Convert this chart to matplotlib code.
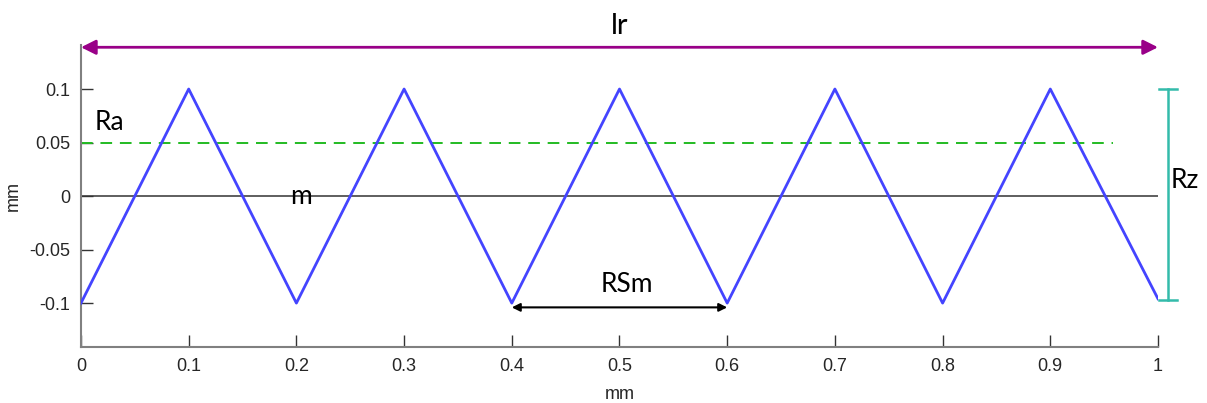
import matplotlib
matplotlib.use('Agg')
import matplotlib.pyplot as plt

# triangle profile, peaks/valleys every 0.1 mm
x_prof = [0, 0.1, 0.2, 0.3, 0.4, 0.5, 0.6, 0.7, 0.8, 0.9, 1.0]
y_prof = [-0.1, 0.1, -0.1, 0.1, -0.1, 0.1, -0.1, 0.1, -0.1, 0.1, -0.096]

ra_level = 0.05
ra_end = 0.958
xticks = [0, 0.1, 0.2, 0.3, 0.4, 0.5, 0.6, 0.7, 0.8, 0.9, 1]
xticklabels = ['0', '0.1', '0.2', '0.3', '0.4', '0.5', '0.6', '0.7', '0.8', '0.9', '1']
yticks = [-0.1, -0.05, 0, 0.05, 0.1]
yticklabels = ['-0.1', '-0.05', '0', '0.05', '0.1']

lab_font = 'Lato'
tick_font = 'Liberation Sans'

fig = plt.figure(figsize=(12.07, 4.03), dpi=100)
ax = fig.add_axes([0.0671, 0.139, 0.8923, 0.749])

ax.plot(x_prof, y_prof, color='#4444ff', lw=2, zorder=3)
ax.plot([0, 1.0], [0, 0], color='#333333', lw=1.1, zorder=2)
ax.plot([0, ra_end], [ra_level, ra_level], color='#22bb22', lw=1.4,
        ls=(0, (6, 4)), zorder=2)

# lr arrow across the top
ax.annotate('', xy=(1.0, 0.139), xytext=(0, 0.139), xycoords='data',
            arrowprops=dict(arrowstyle='<|-|>', color='#990088', lw=2,
                            mutation_scale=22, shrinkA=0, shrinkB=0),
            annotation_clip=False)
ax.text(0.5, 0.159, 'lr', ha='center', va='center', fontsize=21,
        family=lab_font, clip_on=False)

# RSm arrow between two valleys
ax.annotate('', xy=(0.6, -0.104), xytext=(0.4, -0.104), xycoords='data',
            arrowprops=dict(arrowstyle='<|-|>', color='black', lw=1.5,
                            mutation_scale=12, shrinkA=0, shrinkB=0))
ax.text(0.507, -0.083, 'RSm', ha='center', va='center', fontsize=19, family=lab_font)

# Rz bracket on the right
zx = 1.0093
ax.plot([zx, zx], [0.1, -0.097], color='#33bbaa', lw=1.8, clip_on=False)
ax.plot([zx - 0.008, zx + 0.008], [0.1, 0.1], color='#33bbaa', lw=1.8, clip_on=False)
ax.plot([zx - 0.008, zx + 0.008], [-0.097, -0.097], color='#33bbaa', lw=1.8, clip_on=False)
ax.text(1.012, 0.015, 'Rz', ha='left', va='center', fontsize=19,
        family=lab_font, clip_on=False)

ax.text(0.013, 0.069, 'Ra', ha='left', va='center', fontsize=19, family=lab_font)
ax.text(0.204, 0.0, 'm', ha='center', va='center', fontsize=19, family=lab_font)

ax.set_xlim(0, 1)
ax.set_ylim(-0.141, 0.141)
ax.set_xticks(xticks)
ax.set_xticklabels(xticklabels)
ax.set_yticks(yticks)
ax.set_yticklabels(yticklabels)
for lbl in ax.get_xticklabels() + ax.get_yticklabels():
    lbl.set_family(tick_font)
    lbl.set_fontsize(13)
    lbl.set_color('#262626')
ax.tick_params(direction='in', length=8.5, width=1, color='#333333', pad=8)
ax.spines['top'].set_visible(False)
ax.spines['right'].set_visible(False)
for s in ['left', 'bottom']:
    ax.spines[s].set_color('#808080')
    ax.spines[s].set_linewidth(1.5)

ax.set_xlabel('mm', fontsize=13, family=tick_font, color='#262626', labelpad=8)
ax.set_ylabel('mm', fontsize=13, family=tick_font, color='#262626', labelpad=5)

fig.savefig('out.png', dpi=100)
